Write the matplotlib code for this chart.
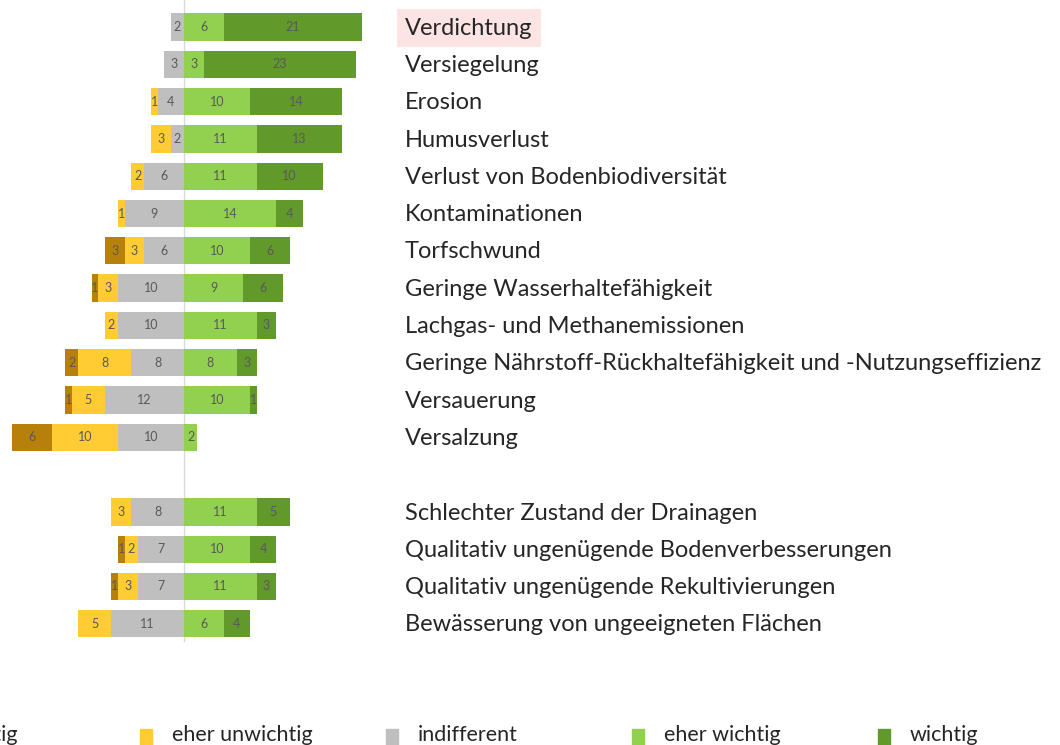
import matplotlib
matplotlib.use("Agg")
import matplotlib.pyplot as plt
from matplotlib.patches import Rectangle

# Kategorien (oben nach unten)
labels = [
    "Verdichtung", "Versiegelung", "Erosion", "Humusverlust",
    "Verlust von Bodenbiodiversität", "Kontaminationen", "Torfschwund",
    "Geringe Wasserhaltefähigkeit", "Lachgas- und Methanemissionen",
    "Geringe Nährstoff-Rückhaltefähigkeit und -Nutzungseffizienz",
    "Versauerung", "Versalzung",
    "Schlechter Zustand der Drainagen",
    "Qualitativ ungenügende Bodenverbesserungen",
    "Qualitativ ungenügende Rekultivierungen",
    "Bewässerung von ungeeigneten Flächen",
]

unwichtig      = [0, 0, 0, 0, 0, 0, 3, 1, 0, 2, 1, 6, 0, 1, 1, 0]
eher_unwichtig = [0, 0, 1, 3, 2, 1, 3, 3, 2, 8, 5, 10, 3, 2, 3, 5]
indifferent    = [2, 3, 4, 2, 6, 9, 6, 10, 10, 8, 12, 10, 8, 7, 7, 11]
eher_wichtig   = [6, 3, 10, 11, 11, 14, 10, 9, 11, 8, 10, 2, 11, 10, 11, 6]
wichtig        = [21, 23, 14, 13, 10, 4, 6, 6, 3, 3, 1, 0, 5, 4, 3, 4]

legend_names = ["unwichtig", "eher unwichtig", "indifferent", "eher wichtig", "wichtig"]
colors = ["#B7800A", "#FFCC33", "#BFBFBF", "#92D050", "#62992B"]

W, H = 1060, 745
fig = plt.figure(figsize=(W / 100, H / 100), dpi=100)
ax = fig.add_axes([0, 0, 1, 1])

px_per_unit = 6.6
zero_px = 184
row0_px, row_step = 27, 37.3
ax.set_xlim(-zero_px / px_per_unit, (W - zero_px) / px_per_unit)
ax.set_ylim((H - row0_px) / row_step, -row0_px / row_step)
ax.axis("off")

# Zeilen: Lücke nach "Versalzung"
pos = list(range(12)) + list(range(13, 17))
bar_h = 0.73

ax.plot([0, 0], [-row0_px / row_step, 16.45], color="#d9d9d9", lw=1, zorder=1)

neg = [unwichtig, eher_unwichtig, indifferent]
posv = [eher_wichtig, wichtig]

for i, y in enumerate(pos):
    # negative Seite: von innen nach außen (indifferent, eher unwichtig, unwichtig)
    right = 0
    for k in (2, 1, 0):
        v = neg[k][i]
        if v == 0:
            continue
        ax.barh(y, -v, left=right, height=bar_h, color=colors[k], zorder=2)
        ax.text(right - v / 2, y, str(v), ha="center", va="center",
                fontsize=9, color="#595959", family="Lato", zorder=3)
        right -= v
    left = 0
    for k in (0, 1):
        v = posv[k][i]
        if v == 0:
            continue
        ax.barh(y, v, left=left, height=bar_h, color=colors[3 + k], zorder=2)
        ax.text(left + v / 2, y, str(v), ha="center", va="center",
                fontsize=9, color="#595959", family="Lato", zorder=3)
        left += v

label_x = (405 - zero_px) / px_per_unit
for i, y in enumerate(pos):
    kw = {}
    if i == 0:
        kw["bbox"] = dict(boxstyle="square,pad=0.35", facecolor="#FCE4E4", edgecolor="none")
    ax.text(label_x, y + 0.03, labels[i], ha="left", va="center", fontsize=17,
            color="#262626", family="Lato", **kw)

# Legende unten (erster Eintrag links abgeschnitten wie im Original)
for j, name in enumerate(legend_names):
    mx = -106 + j * 246
    fig.patches.append(Rectangle((mx / W, 0), 12 / W, 16 / H,
                                 transform=fig.transFigure, color=colors[j]))
    fig.text((mx + 32) / W, 10 / H, name, ha="left", va="center",
             fontsize=15.5, color="#262626", family="Lato")

fig.savefig("out.png", dpi=100, facecolor="white")
